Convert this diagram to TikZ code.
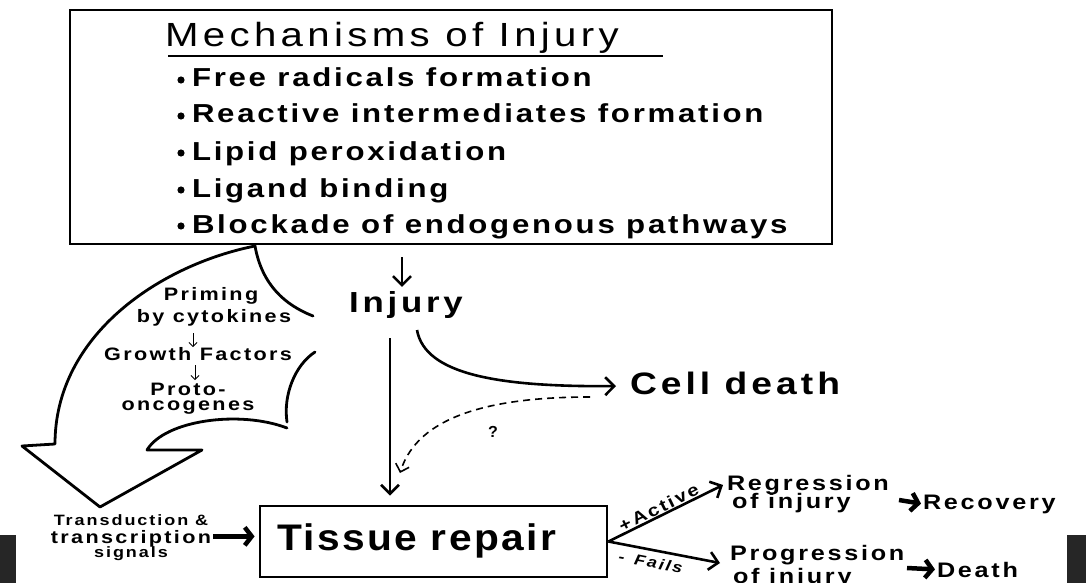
\documentclass[tikz,border=0pt]{standalone}
\usepackage{fontspec}
\setmainfont{Liberation Sans}
\newfontfamily\hsp{Liberation Sans}[LetterSpace=13,FakeStretch=1.2]
\newfontfamily\hitm{Liberation Sans}[LetterSpace=10.5,FakeStretch=1.2]
\newfontfamily\htr{Liberation Sans}[LetterSpace=6.5,FakeStretch=1.1]
\usetikzlibrary{arrows.meta,calc}
\definecolor{darkbar}{RGB}{38,38,38}
\begin{document}
\begin{tikzpicture}[x=1pt,y=-1pt,
  txt/.style={inner sep=0pt, outer sep=0pt},
  item/.style={txt, anchor=base west, font=\hitm\bfseries\fontsize{26pt}{28pt}\selectfont},
  big/.style={txt, font=\hsp\bfseries\fontsize{#1pt}{#1pt}\selectfont},
  arr/.style={line width=2.6pt, -{Straight Barb[length=9pt,width=18pt]}},
  thin/.style={line width=0.8pt, -{Straight Barb[length=4pt,width=8pt]}},
  fat/.style={line width=4.5pt, -{Straight Barb[length=7pt,width=18pt]}},
  dashline/.style={line width=1.6pt, dash pattern=on 7pt off 5pt, -{Straight Barb[length=7pt,width=14pt]}},
  outline/.style={line width=2.8pt, line join=round, line cap=round}]
\useasboundingbox (0,0) rectangle (1086,583);
\clip (0,0) rectangle (1086,583);
\fill[white] (0,0) rectangle (1086,583);
\fill[darkbar] (0,535) rectangle (16,583);
\fill[darkbar] (1067,535) rectangle (1086,583);

% Mechanisms box
\node[draw, line width=1.8pt, minimum width=762pt, minimum height=234pt, inner sep=0pt] (mech) at (451,127) {};
\node[txt, anchor=base west, font=\hsp\fontsize{33.5pt}{34pt}\selectfont] (title) at (165,47) {Mechanisms of Injury};
\draw[line width=1.2pt] (title.base west) ++(3,9) coordinate (ul1) -- ($(ul1)+(495,0)$) coordinate (ul2);
\foreach \n/\y/\t in {1/87/Free radicals formation, 2/123/Reactive intermediates formation, 3/160/Lipid peroxidation, 4/197/Ligand binding, 5/233/Blockade of endogenous pathways} {
  \fill (181,\y-7) circle (3.6pt);
  \node[item] (it\n) at (192,\y) {\t};
}

% Injury
\node[big=29, anchor=base] (injury) at (406,312) {Injury};
\coordinate (a1) at (402,257);
\draw[arr, shorten >=4pt] (a1) -- (a1 |- injury.north);

% Cell death
\node[big=31, anchor=base west] (cell) at (630,394) {Cell death};
\coordinate (c0) at (417,330);
\draw[arr, shorten >=14pt] (c0) .. controls (425,375) and (500,387) .. (cell.west |- 0,386);
\coordinate (d0) at (590,397);
\coordinate (d1) at (400,473);
\draw[dashline] (d0) .. controls (470,397) and (415,425) .. (d1);
\node[txt, font=\bfseries\fontsize{16pt}{16pt}\selectfont] (q) at (493,432) {?};

% Tissue repair
\node[draw, line width=2.8pt, minimum width=347pt, minimum height=71pt, inner sep=0pt] (repair) at (433.5,541.5) {};
\node[txt, anchor=base west, font=\htr\bfseries\fontsize{37pt}{37pt}\selectfont] (rtext) at (277,550) {Tissue repair};
\coordinate (v1) at (390,338);
\draw[arr, shorten >=9pt] (v1) -- (v1 |- repair.north);

% Transduction
\node[big=15, anchor=base] (t1) at (131,525) {Transduction \&};
\node[big=18, anchor=base] (t2) at (131,543) {transcription};
\node[big=15, anchor=base] (t3) at (131,557) {signals};
\draw[fat, shorten >=4pt] ($(t2.east)+(2,-2)$) -- ($(t2.east -| repair.west)+(0,-2)$);

% Outcomes
\node[big=21, anchor=base west] (reg1) at (727,490) {Regression};
\node[big=21, anchor=base west] (reg2) at (732,508) {of injury};
\node[big=21, anchor=base west] (prog1) at (730,560) {Progression};
\node[big=21, anchor=base west] (prog2) at (733,583) {of injury};
\node[big=21, anchor=base west] (rec) at (923,509) {Recovery};
\node[big=21, anchor=base west] (death) at (937,577) {Death};
\coordinate (o) at (repair.east);
\coordinate (p1) at (723,485);
\coordinate (p2) at (720,563);
\draw[arr] (o) -- (p1) node[pos=0.47, above=2pt, sloped, txt, font=\hsp\bfseries\fontsize{17pt}{17pt}\selectfont] {+\,Active};
\draw[arr] (o) -- (p2) node[pos=0.4, below=7pt, sloped, txt, font=\hsp\bfseries\itshape\fontsize{15pt}{15pt}\selectfont] {-\hspace{10pt}Fails};
\coordinate (f1) at (899,500);
\coordinate (f2) at (907,568);
\draw[fat, shorten >=2pt] (f1) -- (rec.west);
\draw[fat, shorten >=2pt] (f2) -- (death.west);

% Left curved arrow
\node[big=18, anchor=base] (pr1) at (211,300) {Priming};
\node[big=18, anchor=base] (pr2) at (214,322) {by cytokines};
\node[big=18, anchor=base] (gf) at (198,360) {Growth Factors};
\node[big=18, anchor=base] (po1) at (188,395) {Proto-};
\node[big=18, anchor=base] (po2) at (188,410) {oncogenes};
\draw[thin] (193,333) -- (193,347);
\draw[thin] (195,365) -- (195,380);
\coordinate (tip) at (255,246);
\draw[outline] (tip) .. controls (160,265) and (55,335) .. (55,444) -- (22,446) -- (100,507) -- (202,450) -- (147,450)
  .. controls (165,420) and (240,410) .. (287,428);
\draw[outline] (tip) .. controls (262,285) and (285,305) .. (313,316);
\draw[outline] (315,352) .. controls (295,365) and (283,395) .. (287,422);
\end{tikzpicture}
\end{document}
